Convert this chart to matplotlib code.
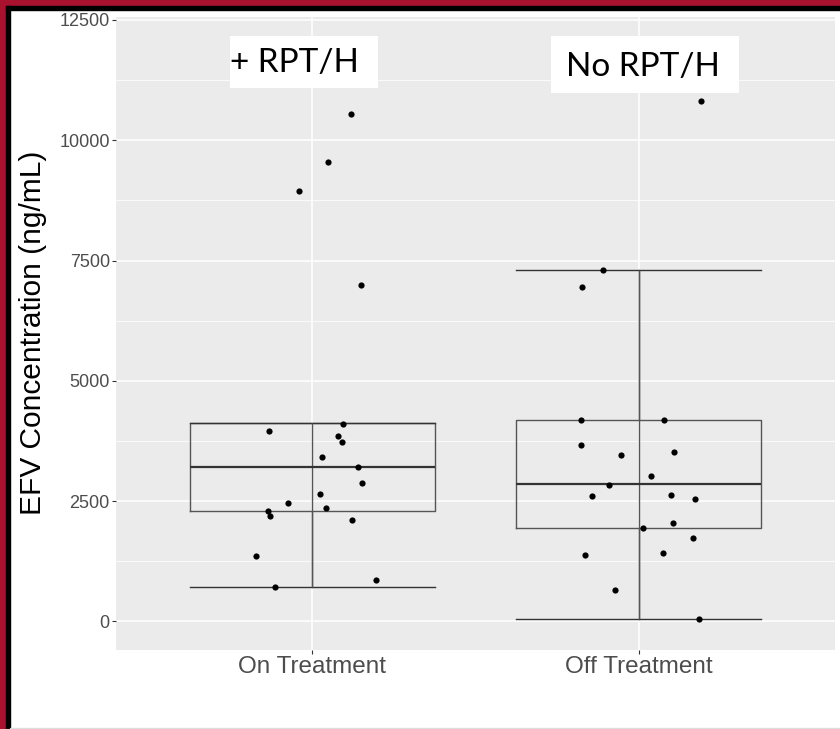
import matplotlib
matplotlib.use("Agg")
from matplotlib import pyplot as plt
from matplotlib.patches import Rectangle
import numpy as np

# categories and tick labels
groups = ["On Treatment", "Off Treatment"]
yticks = [0, 2500, 5000, 7500, 10000, 12500]

# individual EFV concentrations (ng/mL)
on_values = [10538, 9553, 8945, 6992, 4110, 3958, 3848, 3730, 3411, 3204,
             2878, 2649, 2462, 2352, 2290, 2199, 2103, 1367, 856, 717]
on_jitter = [0.118, 0.050, -0.040, 0.150, 0.095, -0.132, 0.078, 0.092, 0.031, 0.142,
             0.153, 0.024, -0.075, 0.044, -0.135, -0.129, 0.122, -0.171, 0.195, -0.115]

off_values = [10815, 7297, 6957, 4187, 4187, 3661, 3453, 3522, 3017, 2843,
              2614, 2635, 2539, 2047, 1936, 1741, 1423, 1382, 661, 58]
off_jitter = [0.190, -0.109, -0.174, -0.177, 0.077, -0.177, -0.054, 0.108, 0.036, -0.093,
              -0.143, 0.097, 0.172, 0.105, 0.013, 0.164, 0.074, -0.165, -0.073, 0.184]

# box statistics as drawn
whis_lo = [717, 52]
q1 = [2290, 1936]
med = [3210, 2851]
q3 = [4118, 4187]
whis_hi = [4118, 7297]

annotations = ["+ RPT/H", "No RPT/H"]

W, H = 840, 729
fig = plt.figure(figsize=(W / 100, H / 100), dpi=100)
fig.patch.set_facecolor("white")

# frame of the slide: red band with a black line inside, left and top
red = "#a9122f"
fig.patches.append(Rectangle((0, 0), 6 / W, 1, transform=fig.transFigure, color=red, zorder=0))
fig.patches.append(Rectangle((0, 1 - 6 / H), 1, 6 / H, transform=fig.transFigure, color=red, zorder=0))
fig.patches.append(Rectangle((6 / W, 0), 4 / W, 1 - 6 / H, transform=fig.transFigure, color="black", zorder=0))
fig.patches.append(Rectangle((6 / W, 1 - 10 / H), 1 - 6 / W, 4 / H, transform=fig.transFigure, color="black", zorder=0))
fig.patches.append(Rectangle((10 / W, 0), 1, 1.5 / H, transform=fig.transFigure, color="#dddddd", zorder=0))

left, right, top, bottom = 116, 835, 16.5, 649.5
ax = fig.add_axes([left / W, 1 - bottom / H, (right - left) / W, (bottom - top) / H])
ax.set_facecolor("#EBEBEB")
for s in ax.spines.values():
    s.set_visible(False)

ax.set_xlim(0.4, 2.6)
ax.set_ylim(-582, 12570)

ax.set_yticks(yticks)
ax.set_yticks([1250, 3750, 6250, 8750, 11250], minor=True)
ax.set_xticks([1, 2])
ax.set_xticklabels(groups)
ax.grid(True, which="major", color="white", lw=1.1, zorder=0)
ax.grid(True, which="minor", axis="y", color="white", lw=0.55, zorder=0)
ax.set_axisbelow(True)

ax.tick_params(axis="y", which="major", length=3, width=0.8, color="#333333",
               labelsize=13, labelcolor="#4d4d4d", pad=1.5)
ax.tick_params(axis="y", which="minor", length=0)
ax.tick_params(axis="x", length=3, width=0.8, color="#333333",
               labelsize=17.5, labelcolor="#4d4d4d", pad=2)
for lab in ax.get_xticklabels() + ax.get_yticklabels():
    lab.set_fontfamily("Liberation Sans")

ax.set_ylabel("EFV Concentration (ng/mL)", fontsize=21.5, family="Liberation Sans", color="black")
ax.yaxis.set_label_coords((47 - left) / (right - left), 0.5)

# boxes
stats = []
for i in range(2):
    stats.append(dict(med=med[i], q1=q1[i], q3=q3[i], whislo=whis_lo[i], whishi=whis_hi[i]))
line_c = "#555555"
ax.bxp(stats, positions=[1, 2], widths=0.75, capwidths=0.75, showfliers=False,
       boxprops=dict(color=line_c, lw=1.0),
       whiskerprops=dict(color=line_c, lw=1.0),
       capprops=dict(color="#333333", lw=1.0),
       medianprops=dict(color="#333333", lw=1.6),
       manage_ticks=False, zorder=2)
ax.vlines([1, 2], whis_lo, whis_hi, color=line_c, lw=1.0, zorder=2)

# jittered points
ax.scatter(1 + np.array(on_jitter), on_values, s=20, color="black", zorder=3, linewidths=0)
ax.scatter(2 + np.array(off_jitter), off_values, s=20, color="black", zorder=3, linewidths=0)

# white label boxes
ax_w, ax_h = right - left, bottom - top
boxes = [(230, 36, 378, 88), (551, 36, 739, 92.7)]
text_pos = [(294.5, 72.3), (642.9, 75.7)]
for (x0, y0, x1, y1), (tx, ty), txt in zip(boxes, text_pos, annotations):
    ax.add_patch(Rectangle(((x0 - left) / ax_w, (bottom - y1) / ax_h),
                           (x1 - x0) / ax_w, (y1 - y0) / ax_h,
                           transform=ax.transAxes, facecolor="white", edgecolor="none", zorder=4))
    ax.text((tx - left) / ax_w, (bottom - ty) / ax_h, txt, transform=ax.transAxes,
            ha="center", va="baseline", fontsize=24, family="Lato", color="black", zorder=5)

fig.savefig("out.png", dpi=100)
